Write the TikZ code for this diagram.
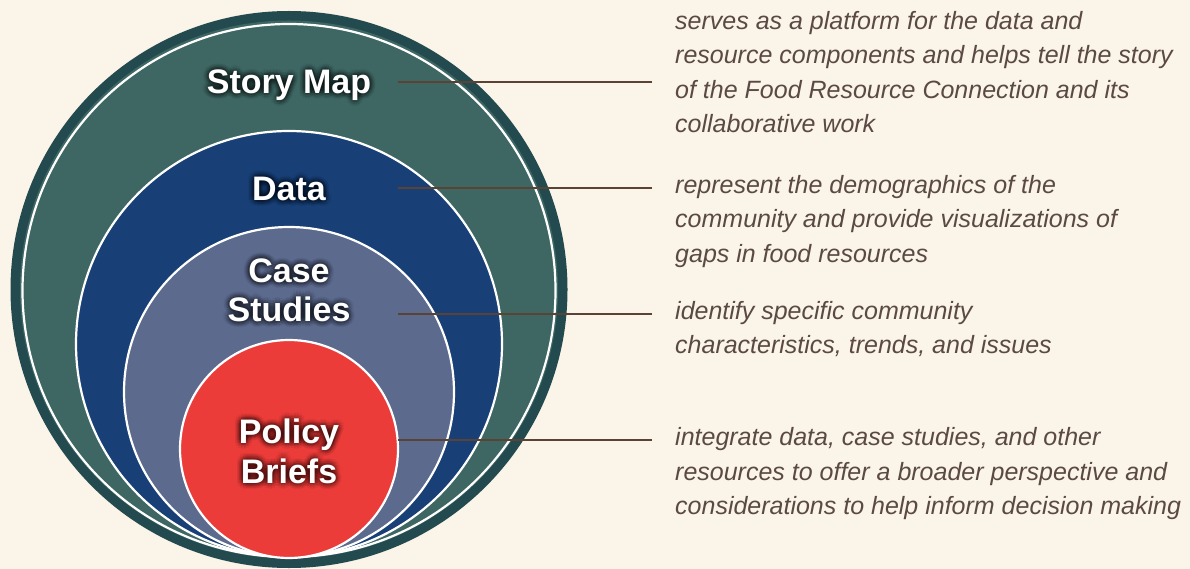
\documentclass[tikz,border=0pt]{standalone}
\usepackage{fontspec}
\setmainfont{Liberation Sans}
\usepackage{xcolor}
\usetikzlibrary{positioning}

\definecolor{paper}{HTML}{FBF4E8}
\definecolor{rimdark}{HTML}{234A4E}
\definecolor{storyteal}{HTML}{3E6763}
\definecolor{datablue}{HTML}{183F76}
\definecolor{caseslate}{HTML}{5C6A8E}
\definecolor{policyred}{HTML}{EC3C39}
\definecolor{leadbrown}{HTML}{5A4234}
\definecolor{notegray}{HTML}{5B4A44}

\tikzset{
  ring/.style={draw=white, line width=2.2pt},
  layer/.style={text=white, font=\bfseries\fontsize{34}{39.5}\selectfont, align=center, anchor=base, inner sep=0pt},
  lead/.style={draw=leadbrown, line width=1.6pt},
  note/.style={text=notegray, font=\itshape\fontsize{25}{34.5}\selectfont, align=left, anchor=base west, inner sep=0pt},
}

% white label with a soft dark halo behind it (position = baseline of last line)
\newcommand{\layerlabel}[3]{%
  \foreach \r in {2,4,6}{
    \foreach \a in {0,30,...,330}{
      \node[layer, text=black, text opacity=.05, xshift={\r*cos(\a)}, yshift={\r*sin(\a)}] (#1-glow-\r-\a) at #2 {#3};
    }
  }
  \node[layer] (#1) at #2 {#3};
}

\begin{document}
\begin{tikzpicture}[x=1pt, y=-1pt]
    \fill[paper] (0,0) rectangle (1190,569);
    \useasboundingbox (0,0) rectangle (1190,569);

    % nested circles, all touching at the bottom
    \fill[rimdark] (289,289.5) circle[radius=278.5pt];
    \fill[storyteal] (289,289.5) circle[radius=269pt];
    \fill[storyteal, ring] (289,290.5) circle[radius=266.5pt];
    \fill[datablue, ring] (289,344) circle[radius=213pt];
    \fill[caseslate, ring] (289,392) circle[radius=165pt];
    \fill[policyred, ring] (289,449) circle[radius=109pt];

    % layer names
    \layerlabel{story}{(289,93.6)}{Story Map}
    \layerlabel{data}{(289,200.6)}{Data}
    \layerlabel{case}{(289,321.8)}{Case\\Studies}
    \layerlabel{policy}{(289,483)}{Policy\\Briefs}

    % descriptions (anchored on the last baseline)
    \node[note] (story-note) at (675,133) {serves as a platform for the data and\\resource components and helps tell the story\\of the Food Resource Connection and its\\collaborative work};
    \node[note] (data-note) at (675,262.3) {represent the demographics of the\\community and provide visualizations of\\gaps in food resources};
    \node[note] (case-note) at (675,353.5) {identify specific community\\characteristics, trends, and issues};
    \node[note] (policy-note) at (675,514.5) {integrate data, case studies, and other\\resources to offer a broader perspective and\\considerations to help inform decision making};

    % leader lines
    \coordinate (story-a) at (398,82);
    \coordinate (data-a) at (398,188);
    \coordinate (case-a) at (398,314);
    \coordinate (policy-a) at (398,440);
    \foreach \n in {story,data,case,policy}{
        \draw[lead, shorten >=23pt] (\n-a) -- (\n-a -| \n-note.west);
    }
\end{tikzpicture}
\end{document}
